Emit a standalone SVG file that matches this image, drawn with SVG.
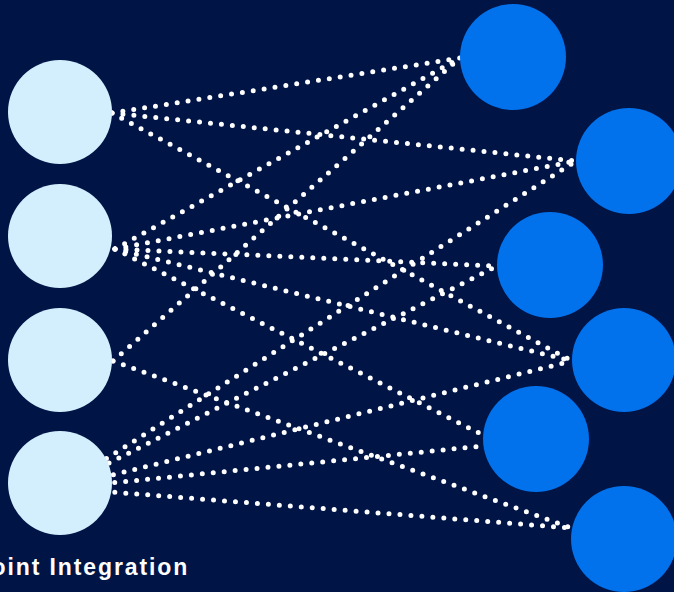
<svg xmlns="http://www.w3.org/2000/svg" width="674" height="592" viewBox="0 0 674 592">
<style>
.link{fill:none;stroke:#ffffff;stroke-width:5;stroke-linecap:round;stroke-dasharray:0 11}
.src{fill:#D3EFFD}
.dst{fill:#0172EC}
.lbl{font-family:"Liberation Sans",Arial,Helvetica,sans-serif;font-weight:bold;font-size:23px;fill:#ffffff;letter-spacing:1.9px}
</style>
<rect x="0" y="0" width="674" height="592" fill="#011446"/>
<g id="connectors">
<line class="link" x1="112" y1="113" x2="460" y2="58"/>
<line class="link" x1="112" y1="113" x2="576" y2="161"/>
<line class="link" x1="112" y1="113" x2="572" y2="361"/>
<line class="link" x1="115" y1="249" x2="460" y2="58"/>
<line class="link" x1="115" y1="249" x2="576" y2="161"/>
<line class="link" x1="115" y1="249" x2="497" y2="266"/>
<line class="link" x1="115" y1="249" x2="572" y2="361"/>
<line class="link" x1="115" y1="249" x2="483" y2="435"/>
<line class="link" x1="113" y1="361" x2="460" y2="58"/>
<line class="link" x1="113" y1="361" x2="571" y2="528"/>
<line class="link" x1="60" y1="488" x2="576" y2="161"/>
<line class="link" x1="60" y1="488" x2="497" y2="266"/>
<line class="link" x1="60" y1="488" x2="572" y2="361"/>
<line class="link" x1="60" y1="488" x2="483" y2="446"/>
<line class="link" x1="60" y1="488" x2="571" y2="528"/>
</g>
<g id="source-1"><circle class="src" cx="60" cy="112" r="52"/></g>
<g id="source-2"><circle class="src" cx="60" cy="236" r="52"/></g>
<g id="source-3"><circle class="src" cx="60" cy="360" r="52"/></g>
<g id="source-4"><circle class="src" cx="60" cy="483" r="52"/></g>
<g id="target-1"><circle class="dst" cx="513" cy="57" r="53"/></g>
<g id="target-2"><circle class="dst" cx="629" cy="161" r="53"/></g>
<g id="target-3"><circle class="dst" cx="550" cy="265" r="53"/></g>
<g id="target-4"><circle class="dst" cx="624" cy="360" r="52"/></g>
<g id="target-5"><circle class="dst" cx="536" cy="439" r="53"/></g>
<g id="target-6"><circle class="dst" cx="624" cy="539" r="53"/></g>
<g id="caption"><text class="lbl" x="-8.5" y="575">oint Integration</text></g>
</svg>
